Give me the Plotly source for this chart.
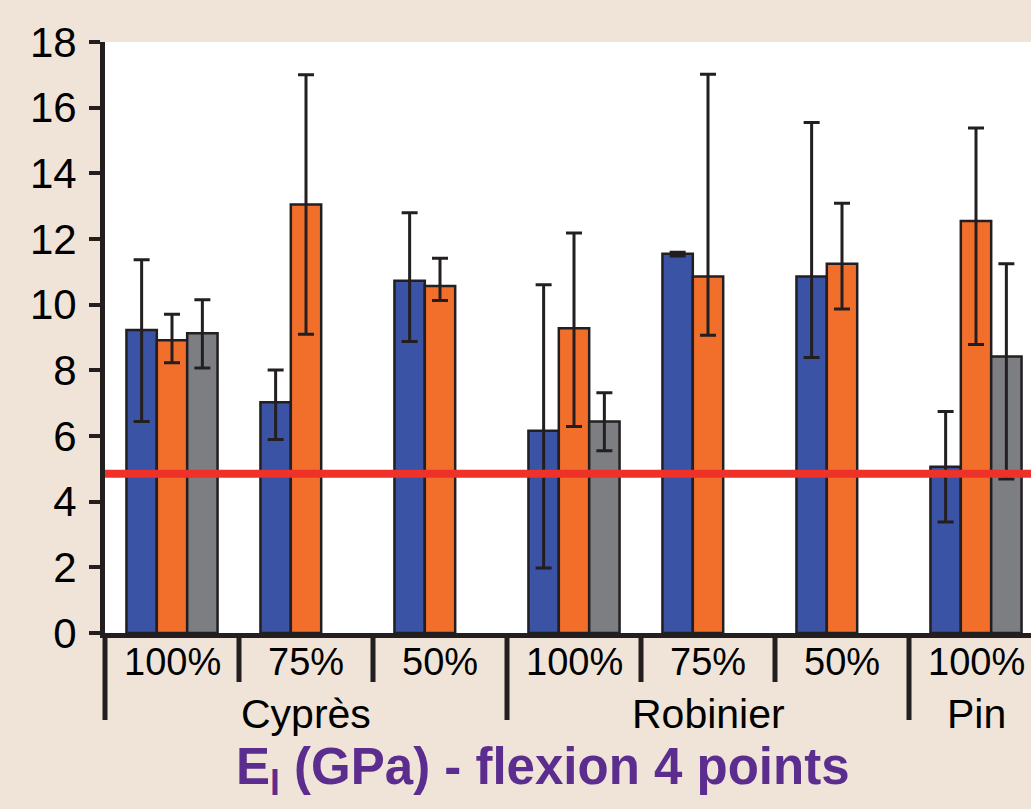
import plotly.graph_objects as go

# ---------------- data ----------------
groups = ["Cyprès", "Cyprès", "Cyprès", "Robinier", "Robinier", "Robinier", "Pin"]
subcats = ["100%", "75%", "50%", "100%", "75%", "50%", "100%"]

blue_vals = [9.23, 7.03, 10.73, 6.16, 11.55, 10.86, 5.06]
blue_plus = [2.14, 0.98, 2.07, 4.45, 0.05, 4.69, 1.69]
blue_minus = [2.79, 1.14, 1.85, 4.18, 0.07, 2.47, 1.68]

orange_vals = [8.92, 13.05, 10.57, 9.28, 10.86, 11.25, 12.55]
orange_plus = [0.79, 3.95, 0.84, 2.90, 6.16, 1.84, 2.83]
orange_minus = [0.69, 3.95, 0.44, 2.99, 1.79, 1.38, 3.76]

gray_vals = [9.13, None, None, 6.44, None, None, 8.42]
gray_plus = [1.02, 0, 0, 0.88, 0, 0, 2.83]
gray_minus = [1.06, 0, 0, 0.89, 0, 0, 3.73]

threshold = 4.85
y_ticks = [0, 2, 4, 6, 8, 10, 12, 14, 16, 18]
title_text = "E<sub>l</sub> (GPa) - flexion 4 points"

# ---------------- style ----------------
BLUE = "#3A53A4"
ORANGE = "#F26F2B"
GRAY = "#7D7E82"
INK = "#231F20"
RED = "#EE3129"
PURPLE = "#5B2D8E"
BG = "#EFE4D7"
FONT = "Liberation Sans, Arial, sans-serif"

x_keys = [f"{g} {s}" for g, s in zip(groups, subcats)]

fig = go.Figure()
for vals, plus, minus, color in [
    (blue_vals, blue_plus, blue_minus, BLUE),
    (orange_vals, orange_plus, orange_minus, ORANGE),
    (gray_vals, gray_plus, gray_minus, GRAY),
]:
    fig.add_trace(go.Bar(
        x=x_keys, y=vals,
        marker=dict(color=color, line=dict(color=INK, width=2.5)),
        error_y=dict(type="data", array=plus, arrayminus=minus, symmetric=False,
                     color=INK, thickness=3, width=8),
        showlegend=False,
    ))

# reference line
fig.add_shape(type="line", xref="paper", yref="y", x0=0, x1=1, y0=threshold, y1=threshold,
              line=dict(color=RED, width=8), layer="above")

ML, MT, MB = 105, 42, 176
W, H = 1031, 809
plot_h = H - MT - MB
n = len(x_keys)
cat_px = 134
x_hi = (W - ML) / cat_px - 0.5


def py(px):
    return (H - MB - px) / plot_h


# separators
fig.add_shape(type="line", xref="x domain", yref="paper", x0=0, x1=0, y0=0, y1=py(720),
              line=dict(color=INK, width=5))
for i in range(1, n):
    tall = groups[i] != groups[i - 1]
    fig.add_shape(type="line", xref="x", yref="paper", x0=i - 0.5, x1=i - 0.5,
                  y0=0, y1=py(720 if tall else 682), line=dict(color=INK, width=5))

# inner labels
for i, s in enumerate(subcats):
    fig.add_annotation(x=i, xref="x", y=py(662), yref="paper", text=s, showarrow=False,
                       yanchor="middle", font=dict(family=FONT, size=38, color="black"))

# group labels
seen = []
for g in groups:
    if g not in seen:
        seen.append(g)
for g in seen:
    idx = [i for i, gg in enumerate(groups) if gg == g]
    fig.add_annotation(x=sum(idx) / len(idx), xref="x", y=py(714), yref="paper", text=g,
                       showarrow=False, yanchor="middle",
                       font=dict(family=FONT, size=41, color="black"))

fig.add_annotation(x=(543 - ML) / (W - ML), xref="paper", y=py(770), yref="paper",
                   text=title_text, showarrow=False, yanchor="middle", xanchor="center",
                   font=dict(family=FONT, size=51, color=PURPLE, weight="bold"))

fig.update_layout(
    width=W, height=H,
    margin=dict(l=ML, r=0, t=MT, b=MB, pad=0),
    paper_bgcolor=BG, plot_bgcolor="white",
    barmode="group", bargap=0.32, bargroupgap=0,
    xaxis=dict(type="category", range=[-0.5, x_hi], showticklabels=False, ticks="",
               showline=True, linewidth=5, linecolor=INK, showgrid=False, zeroline=False,
               fixedrange=True),
    yaxis=dict(range=[0, 18], tickvals=y_ticks, ticks="outside", ticklen=11, tickwidth=4,
               tickcolor=INK, showline=True, linewidth=5, linecolor=INK, showgrid=False,
               zeroline=False, ticklabelstandoff=4,
               tickfont=dict(family=FONT, size=42, color="black")),
)

fig.write_html(
    "out.html",
    config={"displayModeBar": False},
    post_script="document.body.style.margin='0';document.body.style.overflow='hidden';",
)
